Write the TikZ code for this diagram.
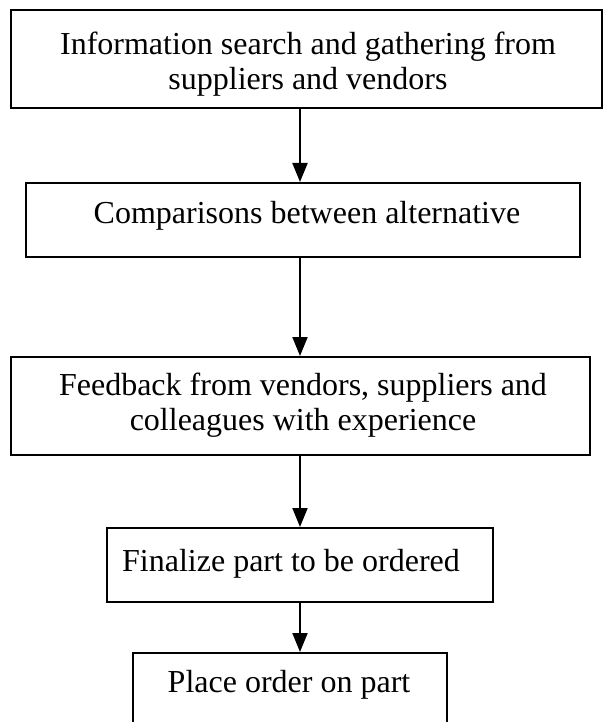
\documentclass[tikz,border=0pt]{standalone}
\usepackage{fontspec}
\setmainfont{Liberation Serif}
\usetikzlibrary{arrows.meta}
\begin{document}
\begin{tikzpicture}[x=1pt,y=-1pt,
  box/.style={draw=black,line width=2pt,inner sep=0pt},
  lbl/.style={align=center,font=\fontsize{32}{35}\selectfont,inner sep=0pt},
  flow/.style={draw=black,line width=2pt,-{Triangle[length=19pt,width=15pt]}}]
\useasboundingbox (0,0) rectangle (604,722);
\fill[white] (0,0) rectangle (604,722);
\node[box,minimum width=591pt,minimum height=98pt] (b1) at (306.5,59) {};
\node[lbl] (t1) at (308,64) {Information search and gathering from\\suppliers and vendors};
\node[box,minimum width=554pt,minimum height=74pt] (b2) at (303,220) {};
\node[lbl] (t2) at (307,216) {Comparisons between alternative};
\node[box,minimum width=579pt,minimum height=98pt] (b3) at (300.5,406) {};
\node[lbl] (t3) at (303,405) {Feedback from vendors, suppliers and\\colleagues with experience};
\node[box,minimum width=386pt,minimum height=74pt] (b4) at (300,565) {};
\node[lbl] (t4) at (291,564) {Finalize part to be ordered};
\node[box,minimum width=314pt,minimum height=110pt,anchor=north] (b5) at (290,652) {};
\node[lbl] (t5) at (289,685) {Place order on part};
\draw[flow] (b1.south -| 300,0) -- (b2.north -| 300,0);
\draw[flow] (b2.south -| 300,0) -- (b3.north -| 300,0);
\draw[flow] (b3.south -| 300,0) -- (b4.north -| 300,0);
\draw[flow] (b4.south -| 300,0) -- (b5.north -| 300,0);
\end{tikzpicture}
\end{document}
